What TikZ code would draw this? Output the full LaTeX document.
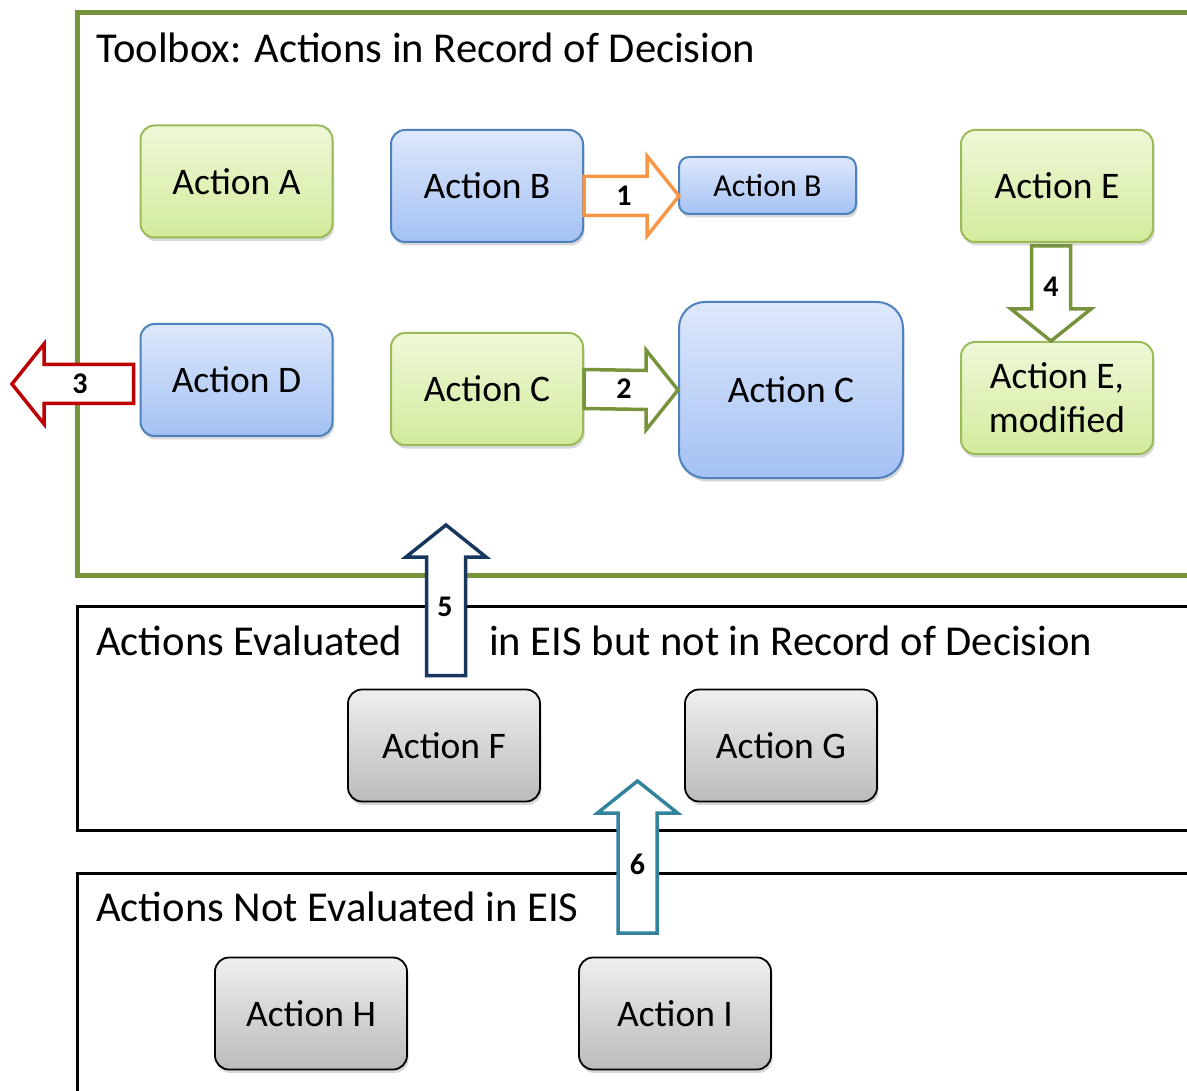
\documentclass[tikz,border=0pt]{standalone}
\usepackage{fontspec}
\setmainfont{Carlito}
\usetikzlibrary{calc,shadows}

\definecolor{frameGreen}{HTML}{77933C}
\definecolor{grnLine}{HTML}{9BBB59}
\definecolor{grnTop}{HTML}{EEF8D8}
\definecolor{grnBot}{HTML}{D3EB9C}
\definecolor{bluLine}{HTML}{4F81BD}
\definecolor{bluTop}{HTML}{DDE8FB}
\definecolor{bluBot}{HTML}{A4C1F4}
\definecolor{gryTop}{HTML}{EFEFEF}
\definecolor{gryBot}{HTML}{BBBBBB}
\definecolor{arrOrange}{HTML}{F79646}
\definecolor{arrRed}{HTML}{C00000}
\definecolor{arrNavy}{HTML}{17375E}
\definecolor{arrTeal}{HTML}{31849B}

\tikzset{
  action/.style={rounded corners=14pt, line width=2pt, align=center,
    inner sep=0pt, font=\fontsize{37.5}{44}\selectfont,
    drop shadow={opacity=0.3, shadow xshift=1.5pt, shadow yshift=-3.5pt},
    minimum width=192pt, minimum height=112pt},
  greenact/.style={action, draw=grnLine, top color=grnTop, bottom color=grnBot},
  blueact/.style={action, draw=bluLine, top color=bluTop, bottom color=bluBot},
  grayact/.style={action, draw=black, line width=1.8pt, top color=gryTop, bottom color=gryBot},
  frametitle/.style={anchor=base west, inner sep=0pt, font=\fontsize{42.6}{48}\selectfont},
  arrlabel/.style={inner sep=0pt, font=\fontsize{30}{32}\selectfont\bfseries},
  blockarr/.style={draw=#1, fill=white, line width=3.5pt, line join=miter}
}

% block arrow: colour, tail, tip, unit direction (x, y), label position, label
\newcommand{\blockarrow}[7]{%
  \draw[blockarr=#1]
    ($(#2)+({19.5*(#5)},{-19.5*(#4)})$) --
    ($(#3)+({-32*(#4)+19.5*(#5)},{-32*(#5)-19.5*(#4)})$) --
    ($(#3)+({-32*(#4)+40*(#5)},{-32*(#5)-40*(#4)})$) --
    (#3) --
    ($(#3)+({-32*(#4)-40*(#5)},{-32*(#5)+40*(#4)})$) --
    ($(#3)+({-32*(#4)-19.5*(#5)},{-32*(#5)+19.5*(#4)})$) --
    ($(#2)+({-19.5*(#5)},{19.5*(#4)})$) -- cycle;
  \node[arrlabel] at (#6) {#7};
}

\begin{document}
\begin{tikzpicture}[x=1pt, y=-1pt]
  \useasboundingbox (0,0) rectangle (1187,1091);
  \clip (0,0) rectangle (1187,1091);
  \fill[white] (0,0) rectangle (1187,1091);

  % frames
  \draw[frameGreen, line width=5pt] (77,13) rectangle (1220,575);
  \draw[black, line width=3pt] (77,606) rectangle (1220,830);
  \draw[black, line width=3pt] (77,873) rectangle (1220,1120);

  % frame titles
  \node[frametitle] (t1) at (96,63) {Toolbox: Actions in Record of Decision};
  \node[frametitle] (t2a) at (96,655) {Actions Evaluated};
  \node[frametitle] (t2b) at (489,655) {in EIS but not in Record of Decision};
  \node[frametitle] (t3) at (96,921) {Actions Not Evaluated in EIS};

  % toolbox actions
  \node[greenact] (aA) at (236.5,181.5) {Action A};
  \node[blueact] (aB) at (487,186) {Action B};
  \node[blueact, minimum width=177pt, minimum height=57pt, rounded corners=10pt,
        font=\fontsize{32}{36}\selectfont] (aBs) at (767.5,185.5) {Action B};
  \node[greenact] (aE) at (1057,186) {Action E};
  \node[blueact] (aD) at (236.5,380) {Action D};
  \node[greenact] (aC) at (487,389) {Action C};
  \node[blueact, minimum width=224pt, minimum height=176pt, rounded corners=26pt] (aCb) at (791,390) {Action C};
  \node[greenact] (aEm) at (1057,398) {Action E,\\modified};

  % evaluated / not evaluated actions
  \node[grayact] (aF) at (444,745.5) {Action F};
  \node[grayact] (aG) at (781,745.5) {Action G};
  \node[grayact] (aH) at (311,1013.5) {Action H};
  \node[grayact] (aI) at (675,1013.5) {Action I};

  % arrow end points
  \coordinate (tip1) at ($(aBs.west)+(1,10.5)$);
  \coordinate (tail1) at (aB.east |- tip1);
  \coordinate (tip3) at (12,384);
  \coordinate (tail3) at ($(aD.west)+(-6,4)$);
  \coordinate (tip4) at ($(aEm.north)+(-6,0)$);
  \coordinate (tail4) at ($(aE.south)+(-6,3)$);
  \coordinate (tail5) at ($(aF.north)+(2,-13)$);
  \coordinate (tip5) at (tail5 |- 0,525);
  \coordinate (tail6) at (637.5,933);
  \coordinate (tip6) at (637.5,781);

  % block arrows
  \blockarrow{arrOrange}{tail1}{tip1}{1}{0}{$(tail1)+(40,0)$}{1}
  \blockarrow{frameGreen}{aC.east}{aCb.west}{1}{0}{$(aC.east)+(40,0)$}{2}
  \blockarrow{arrRed}{tail3}{tip3}{-1}{0}{80,384}{3}
  \blockarrow{frameGreen}{tail4}{tip4}{0}{1}{$(tail4)+(0,41)$}{4}
  \blockarrow{arrNavy}{tail5}{tip5}{0}{-1}{$(tail5)+(-1,-69)$}{5}
  \blockarrow{arrTeal}{tail6}{tip6}{0}{-1}{$(tail6)+(0,-69)$}{6}
\end{tikzpicture}
\end{document}
